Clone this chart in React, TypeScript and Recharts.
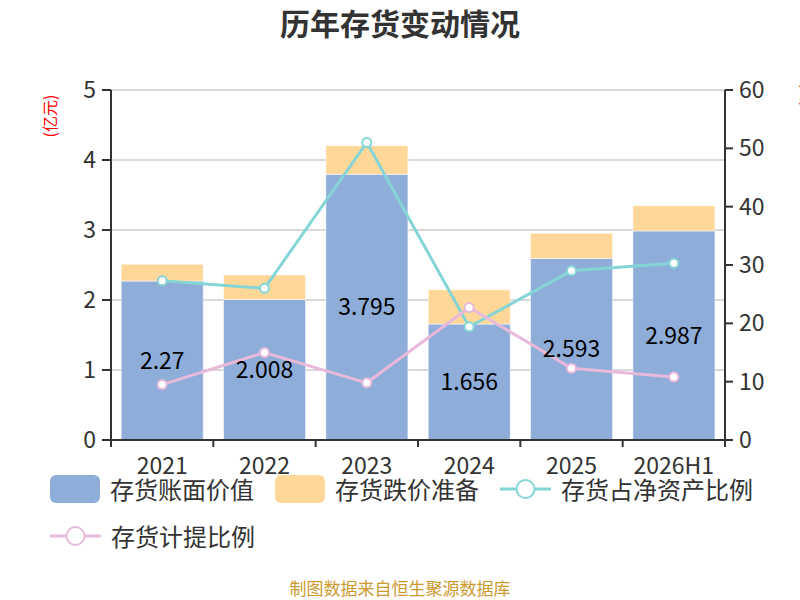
import React from 'react';
import { ComposedChart, Bar, Line, XAxis, YAxis, CartesianGrid, LabelList } from 'recharts';

const categories = ['2021', '2022', '2023', '2024', '2025', '2026H1'];
const bookValue = [2.27, 2.008, 3.795, 1.656, 2.593, 2.987];
const impairment = [0.24, 0.35, 0.41, 0.49, 0.36, 0.36];
const netAssetRatio = [27.3, 26.0, 51.0, 19.4, 29.0, 30.3];
const provisionRatio = [9.5, 15.0, 9.8, 22.7, 12.3, 10.8];
const leftTicks = [0, 1, 2, 3, 4, 5];
const rightTicks = [0, 10, 20, 30, 40, 50, 60];

const seriesNames = ['存货账面价值', '存货跌价准备', '存货占净资产比例', '存货计提比例'];
const colors = ['#8eadd9', '#ffd899', '#85d5d6', '#e8b9da'];

const data = categories.map((c, i) => ({
  name: c,
  book: bookValue[i],
  imp: impairment[i],
  net: netAssetRatio[i],
  prov: provisionRatio[i],
}));

const FONT = '"Noto Sans CJK SC", "Noto Sans", sans-serif';
const W = 800;
const H = 600;
const PLOT_L = 111;
const PLOT_R = 725;
const BAND = (PLOT_R - PLOT_L) / categories.length;

const XTick = (props: any) => {
  const { x, y, payload, index } = props;
  const axisY = y - 8;
  return (
    <g>
      <line x1={x - BAND / 2} y1={axisY} x2={x - BAND / 2} y2={axisY + 7} stroke="#333" strokeWidth={2} />
      {index === categories.length - 1 && (
        <line x1={x + BAND / 2} y1={axisY} x2={x + BAND / 2} y2={axisY + 7} stroke="#333" strokeWidth={2} />
      )}
      <text x={x} y={axisY + 34} textAnchor="middle" fill="#333" fontSize={23} fontFamily={FONT}>
        {payload.value}
      </text>
    </g>
  );
};

const LineIcon = ({ color }: { color: string }) => (
  <svg width={51} height={28}>
    <line x1={0} y1={14} x2={51} y2={14} stroke={color} strokeWidth={3} />
    <circle cx={25.5} cy={14} r={9} fill="#fff" stroke={color} strokeWidth={2} />
  </svg>
);

const RectIcon = ({ color }: { color: string }) => (
  <div style={{ width: 50, height: 28, background: color, borderRadius: 6 }} />
);

const legendItems = [
  { name: seriesNames[0], icon: <RectIcon color={colors[0]} /> },
  { name: seriesNames[1], icon: <RectIcon color={colors[1]} /> },
  { name: seriesNames[2], icon: <LineIcon color={colors[2]} /> },
  { name: seriesNames[3], icon: <LineIcon color={colors[3]} /> },
];

export default function App() {
  return (
    <div style={{ position: 'absolute', left: 0, top: 0, width: W, height: H, fontFamily: FONT, background: '#fff', overflow: 'hidden' }}>
      <div style={{ position: 'absolute', top: 3, left: 0, width: W, textAlign: 'center', fontSize: 30, fontWeight: 'bold', color: '#333', lineHeight: '38px' }}>
        历年存货变动情况
      </div>
      <ComposedChart
        width={W}
        height={H}
        data={data}
        margin={{ top: 90, left: 51, right: 15, bottom: 130 }}
        barCategoryGap="10%"
      >
        <CartesianGrid yAxisId="left" vertical={false} stroke="#ccc" strokeWidth={1.5} />
        <XAxis
          dataKey="name"
          height={30}
          axisLine={{ stroke: '#333', strokeWidth: 2 }}
          tickLine={false}
          tick={<XTick />}
          interval={0}
        />
        <YAxis
          yAxisId="left"
          width={60}
          domain={[0, 5]}
          ticks={leftTicks}
          interval={0}
          axisLine={{ stroke: '#333', strokeWidth: 2 }}
          tickLine={{ stroke: '#333', strokeWidth: 2 }}
          tickSize={9}
          tickMargin={6}
          tick={{ fill: '#333', fontSize: 23, fontFamily: FONT }}
        />
        <YAxis
          yAxisId="right"
          orientation="right"
          width={60}
          domain={[0, 60]}
          ticks={rightTicks}
          interval={0}
          axisLine={{ stroke: '#333', strokeWidth: 2 }}
          tickLine={{ stroke: '#333', strokeWidth: 2 }}
          tickSize={8}
          tickMargin={6}
          tick={{ fill: '#333', fontSize: 23, fontFamily: FONT }}
        />
        <Bar yAxisId="left" dataKey="book" stackId="a" fill={colors[0]} stroke="#fff" strokeOpacity={0.5} isAnimationActive={false}>
          <LabelList dataKey="book" position="center" fill="#000" fontSize={23} fontFamily={FONT} />
        </Bar>
        <Bar yAxisId="left" dataKey="imp" stackId="a" fill={colors[1]} stroke="#fff" strokeOpacity={0.5} isAnimationActive={false} />
        <Line
          yAxisId="right"
          dataKey="net"
          stroke={colors[2]}
          strokeWidth={3}
          dot={{ r: 4.5, fill: '#fff', stroke: colors[2], strokeWidth: 2 }}
          activeDot={false}
          isAnimationActive={false}
        />
        <Line
          yAxisId="right"
          dataKey="prov"
          stroke={colors[3]}
          strokeWidth={3}
          dot={{ r: 4.5, fill: '#fff', stroke: colors[3], strokeWidth: 2 }}
          activeDot={false}
          isAnimationActive={false}
        />
        <text x={49} y={116} transform="rotate(-90 49 116)" textAnchor="middle" dominantBaseline="central" fill="#ff0000" fontSize={16} fontFamily={FONT}>
          (亿元)
        </text>
        <text x={805} y={95} transform="rotate(-90 805 95)" textAnchor="middle" dominantBaseline="central" fill="#ff0000" fontSize={16} fontFamily={FONT}>
          (%)
        </text>
      </ComposedChart>
      <div
        style={{
          position: 'absolute',
          left: 50,
          top: 475,
          width: 730,
          display: 'flex',
          flexWrap: 'wrap',
          columnGap: 21,
          rowGap: 19,
        }}
      >
        {legendItems.map((it) => (
          <div key={it.name} style={{ display: 'flex', alignItems: 'center', height: 28 }}>
            {it.icon}
            <span style={{ marginLeft: 10, fontSize: 24, color: '#333', lineHeight: '28px', whiteSpace: 'nowrap' }}>{it.name}</span>
          </div>
        ))}
      </div>
      <div style={{ position: 'absolute', top: 577, left: 0, width: W, textAlign: 'center', fontSize: 17, color: '#cc9a2e', lineHeight: '22px' }}>
        制图数据来自恒生聚源数据库
      </div>
    </div>
  );
}
